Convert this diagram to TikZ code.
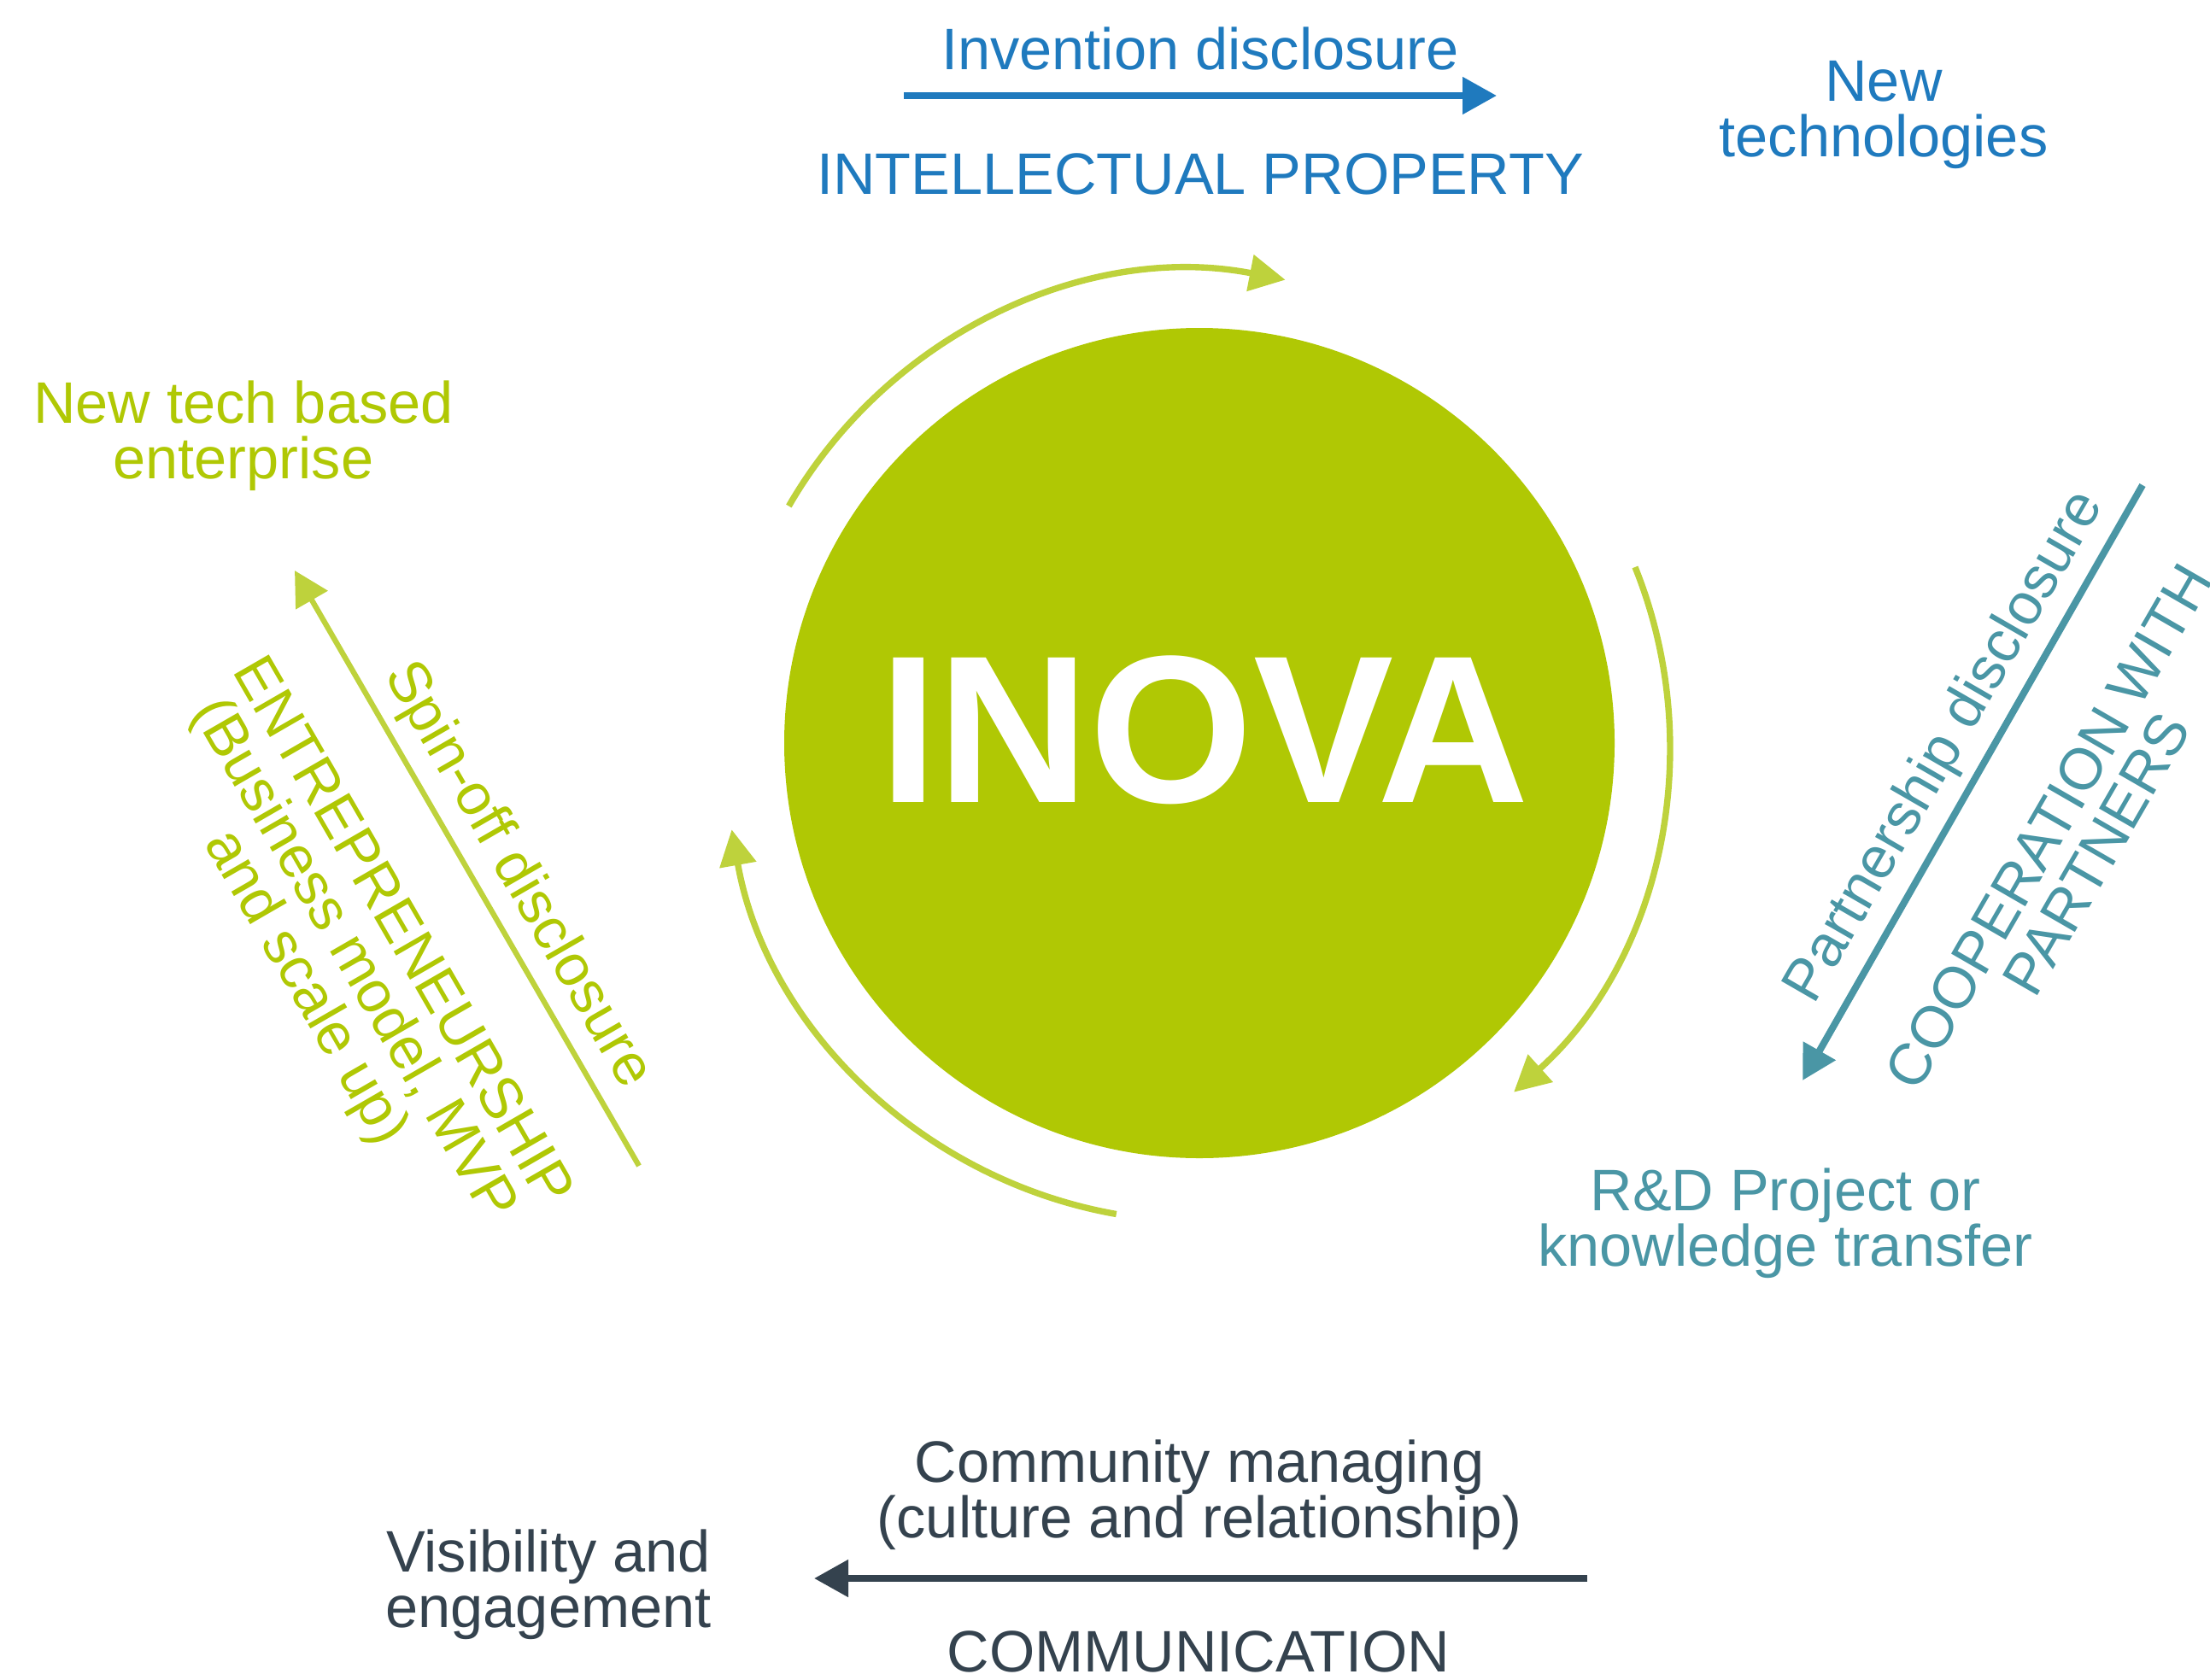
\documentclass[tikz,border=0pt]{standalone}
\usepackage{fontspec}
\setmainfont{Liberation Sans}
\usetikzlibrary{arrows.meta}

\definecolor{hubgreen}{RGB}{176,200,4}
\definecolor{cyclegreen}{RGB}{190,210,60}
\definecolor{ipblue}{RGB}{31,122,190}
\definecolor{coopteal}{RGB}{74,150,165}
\definecolor{commslate}{RGB}{52,66,78}

\tikzset{
	lbl/.style={align=center, inner sep=0pt, font=\fontsize{19.5}{18.5}\selectfont},
	looparc/.style={cyclegreen, line width=2.1pt, -{Triangle[length=0.42cm,width=0.42cm]}},
	flowarrow/.style={line width=2.3pt, -{Triangle[length=0.40cm,width=0.42cm]}},
}

\begin{document}
\begin{tikzpicture}
	\useasboundingbox (0,0) rectangle (25.87,-19.66);

	% Draw central circle
	\node[circle, fill=hubgreen, minimum size=9.72cm, inner sep=0pt] (hub) at (14.04,-8.70) {};
	\node[font=\bfseries\fontsize{70}{70}\selectfont, text=white, inner sep=0pt] (inova) at (14.10,-8.55) {INOVA};

	% Draw cycle arcs
	\draw[looparc] ([shift={(150:5.55)}] hub.center) arc(150:79:5.5);
	\draw[looparc] ([shift={(22:5.5)}] hub.center) arc(22:-48:5.5);
	\draw[looparc] ([shift={(260:5.6)}] hub.center) arc(260:190:5.55);

	% Intellectual property
	\coordinate (ipA) at (10.58,-1.12);
	\coordinate (ipB) at (17.52,-1.12);
	\draw[flowarrow, ipblue] (ipA) -- (ipB);
	\node[lbl, text=ipblue] (invdisc) at (14.05,-0.57) {Invention disclosure};
	\node[lbl, text=ipblue] (ipname) at (14.05,-2.04) {INTELLECTUAL PROPERTY};
	\node[lbl, text=ipblue] (newtech) at (22.05,-1.35) {New\\technologies};

	% Entrepreneurship
	\coordinate (spinA) at (7.48,-13.65);
	\coordinate (spinB) at (3.45,-6.68);
	\draw[flowarrow, cyclegreen, line width=1.8pt] (spinA) -- (spinB);
	\node[lbl, text=hubgreen, rotate=-60] (spinlbl) at (6.05,-10.25) {Spin-off disclosure};
	\node[lbl, text=hubgreen, rotate=-60] (entre) at (4.12,-11.25) {ENTREPRENEURSHIP\\(Business model, MVP\\and scale up)};
	\node[lbl, text=hubgreen] (ntbe) at (2.85,-5.10) {New tech based\\enterprise};

	% Cooperation with partners
	\coordinate (coopA) at (25.08,-5.68);
	\coordinate (coopB) at (21.10,-12.65);
	\draw[flowarrow, coopteal] (coopA) -- (coopB);
	\node[lbl, text=coopteal, rotate=60] (partlbl) at (22.78,-8.75) {Partnership disclosure};
	\node[lbl, text=coopteal, rotate=60] (coopname) at (24.26,-9.84) {COOPERATION WITH\\PARTNERS};
	\node[lbl, text=coopteal] (rnd) at (20.90,-14.32) {R\&D Project or\\knowledge transfer};

	% Communication
	\coordinate (commA) at (18.58,-18.48);
	\coordinate (commB) at (9.53,-18.48);
	\draw[flowarrow, commslate] (commA) -- (commB);
	\node[lbl, text=commslate] (commlbl) at (14.04,-17.50) {Community managing\\(culture and relationship)};
	\node[lbl, text=commslate] (commname) at (14.03,-19.34) {COMMUNICATION};
	\node[lbl, text=commslate] (visib) at (6.42,-18.55) {Visibility and\\engagement};

\end{tikzpicture}
\end{document}
